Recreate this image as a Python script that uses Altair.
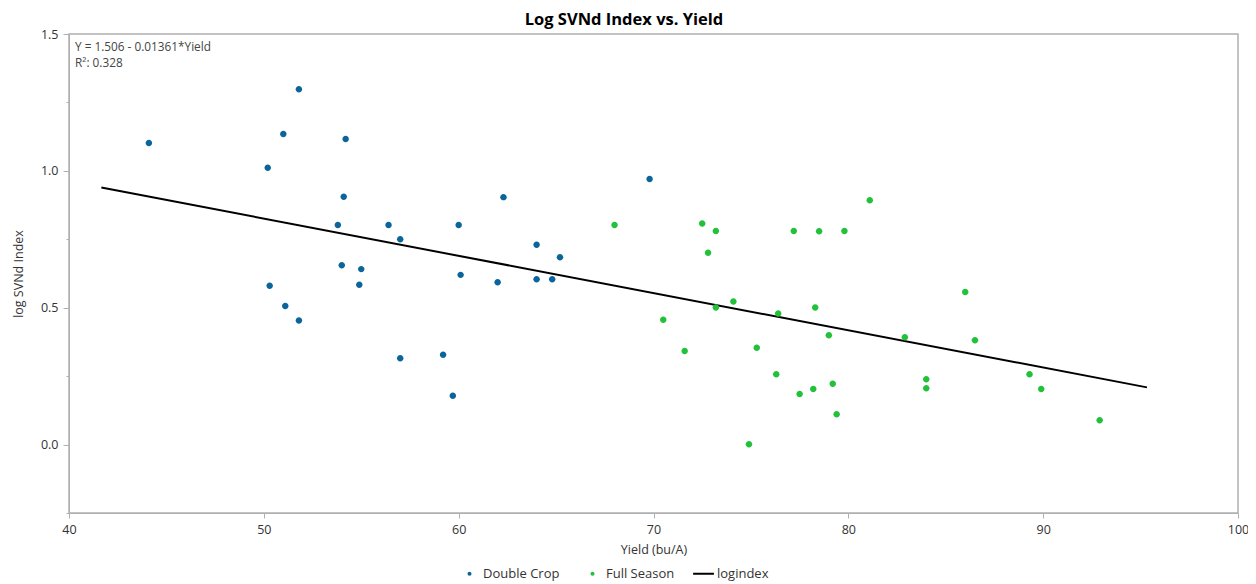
import altair as alt
import pandas as pd

# Double Crop points
dc_x = [44.1, 51.8, 51.0, 54.2, 50.2, 54.1, 53.8, 56.4, 57.0, 60.0, 62.3, 69.8, 54.0, 55.0,
        60.1, 50.3, 54.9, 51.1, 51.8, 57.0, 59.2, 59.7, 64.0, 65.2, 62.0, 64.0, 64.8]
dc_y = [1.102, 1.298, 1.135, 1.116, 1.011, 0.905, 0.802, 0.802, 0.750, 0.802, 0.904, 0.970, 0.655, 0.641,
        0.620, 0.580, 0.584, 0.506, 0.453, 0.315, 0.328, 0.178, 0.730, 0.684, 0.593, 0.604, 0.604]

# Full Season points
fs_x = [68.0, 72.5, 73.2, 72.8, 77.2, 78.5, 79.8, 74.1, 73.2, 76.4, 78.3, 70.5, 79.0, 71.6, 75.3,
        76.3, 77.5, 78.2, 79.2, 79.4, 74.9, 81.1, 86.0, 82.9, 86.5, 84.0, 84.0, 89.3, 89.9, 92.9]
fs_y = [0.802, 0.808, 0.780, 0.701, 0.780, 0.779, 0.780, 0.523, 0.501, 0.479, 0.501, 0.456, 0.399, 0.342, 0.354,
        0.257, 0.185, 0.203, 0.222, 0.111, 0.001, 0.893, 0.557, 0.392, 0.381, 0.239, 0.206, 0.257, 0.203, 0.089]

# regression line (logindex) end points
fit_x = [41.66, 95.33]
fit_y = [0.939, 0.209]

series_names = ["Double Crop", "Full Season", "logindex"]
series_colors = ["#0b659a", "#22c13a", "#000000"]
title_text = "Log SVNd Index vs. Yield"
equation_text = "Y = 1.506 - 0.01361*Yield\nR²: 0.328"

x_ticks = [40, 50, 60, 70, 80, 90, 100]
y_ticks = [-0.25, 0.0, 0.25, 0.5, 0.75, 1.0, 1.25, 1.5]

FONT = "Open Sans"

pts = pd.DataFrame({
    "Yield": dc_x + fs_x,
    "logSVNd": dc_y + fs_y,
    "series": ["Double Crop"] * len(dc_x) + ["Full Season"] * len(fs_x),
})
fit = pd.DataFrame({"Yield": fit_x, "logSVNd": fit_y})
ann = pd.DataFrame({"t": [equation_text]})
ttl = pd.DataFrame({"t": [title_text]})

xscale = alt.Scale(domain=[40, 100], nice=False, zero=False)
yscale = alt.Scale(domain=[-0.25, 1.5], nice=False, zero=False)

minor_test = "abs(datum.value*2 - round(datum.value*2)) > 0.001"

xaxis = alt.Axis(values=x_ticks, title="Yield (bu/A)", grid=False, tickSize=5,
                 labelPadding=5, titlePadding=8, labelFlush=False, domainColor="#b0b0b0",
                 tickColor="#b0b0b0")
yaxis = alt.Axis(values=y_ticks, title="log SVNd Index", grid=False,
                 tickSize={"condition": {"test": minor_test, "value": 3}, "value": 6},
                 labelExpr="abs(datum.value*2 - round(datum.value*2)) > 0.001 ? '' : format(datum.value, '.1f')",
                 labelPadding=5, titlePadding=15, labelFlush=False, domainColor="#b0b0b0",
                 tickColor="#b0b0b0")

# legend symbols: dot (with an invisible bound point to the left) and a short thick line
dot_path = "M-1,0A1,1 0 1,1 1,0A1,1 0 1,1 -1,0Z M-7,0"
line_path = "M-5.2,-0.5L5.2,-0.5L5.2,0.5L-5.2,0.5Z"

leg = alt.Legend(title=None, orient="none", direction="horizontal", legendX=394, legendY=533)

points = alt.Chart(pts).mark_point(filled=True, opacity=1, size=42).encode(
    x=alt.X("Yield:Q", scale=xscale, axis=xaxis),
    y=alt.Y("logSVNd:Q", scale=yscale, axis=yaxis),
    color=alt.Color("series:N", scale=alt.Scale(domain=series_names, range=series_colors), legend=leg),
    shape=alt.Shape("series:N", scale=alt.Scale(domain=series_names,
                                                range=[dot_path, dot_path, line_path]), legend=leg),
)

line = alt.Chart(fit).mark_line(color="black", strokeWidth=2).encode(
    x=alt.X("Yield:Q", scale=xscale),
    y=alt.Y("logSVNd:Q", scale=yscale),
)

text = alt.Chart(ann).mark_text(align="left", baseline="middle", fontSize=11.8, font=FONT,
                                color="#444444", lineBreak="\n", lineHeight=16.5).encode(
    x=alt.value(6), y=alt.value(12.5), text="t:N"
)

title = alt.Chart(ttl).mark_text(align="center", baseline="alphabetic", fontSize=16.5,
                                 fontWeight="bold", font=FONT, color="#000000").encode(
    x=alt.value(555), y=alt.value(-9), text="t:N"
)

chart = alt.layer(line, points, text, title).properties(
    width=1169, height=479,
    autosize=alt.AutoSizeParams(type="none"),
    padding={"left": 61, "top": 26, "right": 10, "bottom": 69},
).configure_view(
    stroke="#b0b0b0", strokeWidth=1.5
).configure_axis(
    labelFont=FONT, titleFont=FONT, labelFontSize=12.5, titleFontSize=12.5,
    labelColor="#333333", titleColor="#333333", titleFontWeight="normal"
).configure_legend(
    labelFont=FONT, labelFontSize=13, labelColor="#333333", symbolSize=16,
    labelOffset=7, columnPadding=18, symbolStrokeWidth=0
)

chart.save("out.html", embed_options={"renderer": "svg", "actions": False})
